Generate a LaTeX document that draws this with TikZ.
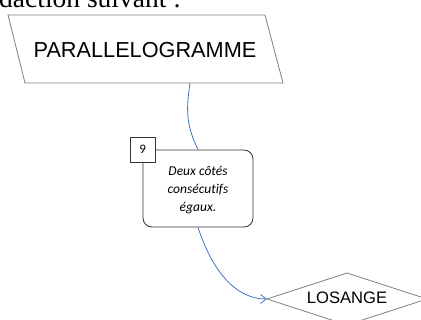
\documentclass[tikz,border=0pt]{standalone}
\usepackage{fontspec}
\setmainfont{Liberation Serif}
\newfontfamily\arialfont{Liberation Sans}
\newfontfamily\calfont[Ligatures=NoCommon]{Carlito}
\usepackage{tikz}
\usetikzlibrary{arrows.meta}

\definecolor{linkblue}{HTML}{4472C4}
\definecolor{shapegray}{HTML}{7F7F7F}

\begin{document}
\begin{tikzpicture}[x=1pt,y=-1pt,
  shapeline/.style={draw=shapegray, line width=0.8pt},
  link/.style={draw=linkblue, line width=0.8pt},
  condbox/.style={draw=black!80, line width=0.8pt, rounded corners=9pt,
    minimum width=110pt, minimum height=77pt, inner sep=0pt},
  numbox/.style={draw=black!80, fill=white, line width=0.8pt,
    minimum size=25pt, inner sep=0pt, font=\calfont\fontsize{13}{15}\selectfont}]
  \useasboundingbox (0,0) rectangle (421,320);
  \clip (0,0) rectangle (421,320);
  % top line of text, cut by the frame
  \node[anchor=base west, inner sep=0pt, font=\fontsize{27.5}{32}\selectfont] (intro) at (-1,7.5) {daction suivant :};
  % parallelogramme
  \draw[shapeline] (8,15) -- (265,15) -- (283,83) -- (25,83) -- cycle;
  \node[font=\arialfont\fontsize{21.7}{26}\selectfont] (para) at (145,50) {PARALLELOGRAMME};
  \coordinate (paraS) at (190,83);
  % condition
  \node[condbox] (cond) at (198,188.5) {};
  \node[align=center, font=\calfont\itshape\fontsize{13.5}{18}\selectfont] (condtxt) at (198,190) {Deux côtés\\consécutifs\\égaux.};
  \node[numbox] (num) at (cond.north west) {9};
  % losange
  \draw[shapeline] (267,299) -- (347,273) -- (427,299) -- (347,325) -- cycle;
  \node[font=\arialfont\fontsize{16.6}{20}\selectfont] (los) at (347,298) {LOSANGE};
  \coordinate (losW) at (267,299);
  % liens
  \draw[link] (paraS) .. controls (186,110) and (186,125) .. (cond.north);
  \draw[link, -{Straight Barb[length=6pt,width=9pt]}] (cond.south) .. controls (212,270) and (235,299) .. (losW);
\end{tikzpicture}
\end{document}
